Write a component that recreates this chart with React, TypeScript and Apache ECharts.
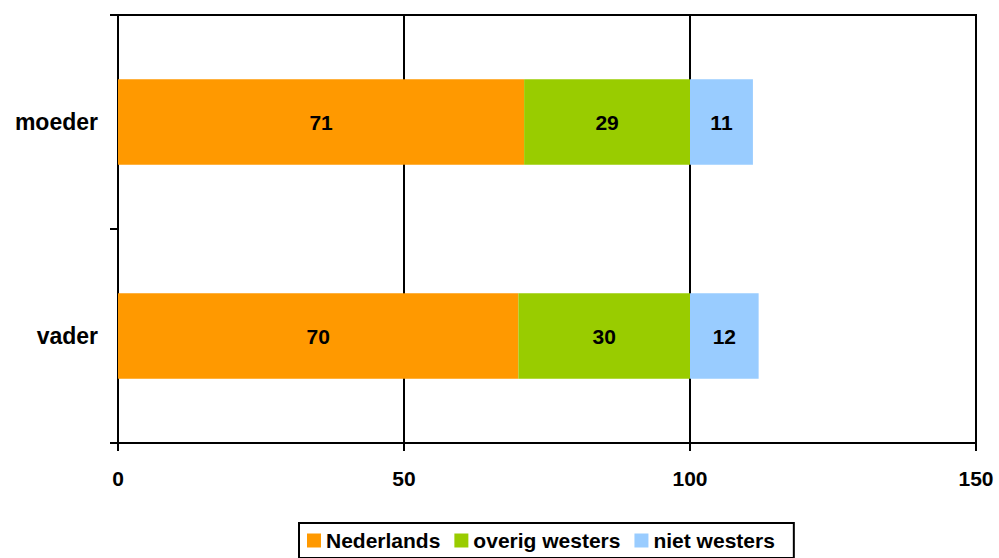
import React, { useEffect, useRef } from "react";
import * as echarts from "echarts";

const categories = ["vader", "moeder"];
const nederlands = [70, 71];
const overigWesters = [30, 29];
const nietWesters = [12, 11];
const seriesNames = ["Nederlands", "overig westers", "niet westers"];
const xTicks = { min: 0, max: 150, interval: 50 };

export default function App() {
  const ref = useRef<HTMLDivElement>(null);
  useEffect(() => {
    if (!ref.current) return;
    const chart = echarts.init(ref.current, undefined, { renderer: "svg" });
    const font = "Arial, 'Liberation Sans', sans-serif";
    const label = {
      show: true,
      position: "inside",
      color: "#000",
      fontWeight: "bold",
      fontSize: 21,
      fontFamily: font,
    };
    const colors = ["#FF9900", "#99CC00", "#99CCFF"];
    const datas = [nederlands, overigWesters, nietWesters];
    chart.setOption({
      animation: false,
      color: colors,
      grid: {
        left: 118,
        right: 23,
        top: 15,
        bottom: 115,
        show: true,
        borderColor: "#000",
        borderWidth: 2,
        backgroundColor: "transparent",
      },
      legend: {
        bottom: 0,
        left: 299,
        icon: "rect",
        itemWidth: 14,
        itemHeight: 14,
        itemGap: 14,
        padding: [7, 19, 7, 8],
        borderColor: "#000",
        borderWidth: 2,
        textStyle: {
          color: "#000",
          fontWeight: "bold",
          fontSize: 21,
          fontFamily: font,
        },
        data: seriesNames,
      },
      xAxis: {
        type: "value",
        min: xTicks.min,
        max: xTicks.max,
        interval: xTicks.interval,
        axisLine: { show: true, lineStyle: { color: "#000", width: 2 } },
        axisTick: { show: true, length: 8, lineStyle: { color: "#000", width: 2 } },
        axisLabel: {
          color: "#000",
          fontWeight: "bold",
          fontSize: 21,
          fontFamily: font,
          margin: 25,
        },
        splitLine: { show: true, lineStyle: { color: "#000", width: 2 } },
      },
      yAxis: {
        type: "category",
        data: categories,
        axisLine: { show: true, lineStyle: { color: "#000", width: 2 } },
        axisTick: { show: true, length: 8, lineStyle: { color: "#000", width: 2 } },
        axisLabel: {
          color: "#000",
          fontWeight: "bold",
          fontSize: 23,
          fontFamily: font,
          margin: 20,
        },
      },
      series: seriesNames.map((name, i) => ({
        name,
        type: "bar",
        stack: "total",
        data: datas[i],
        barWidth: "40%",
        label,
        itemStyle: { color: colors[i] },
      })),
    });
    return () => chart.dispose();
  }, []);
  return <div ref={ref} style={{ width: 999, height: 558, position: "absolute", left: 0, top: 0 }} />;
}
